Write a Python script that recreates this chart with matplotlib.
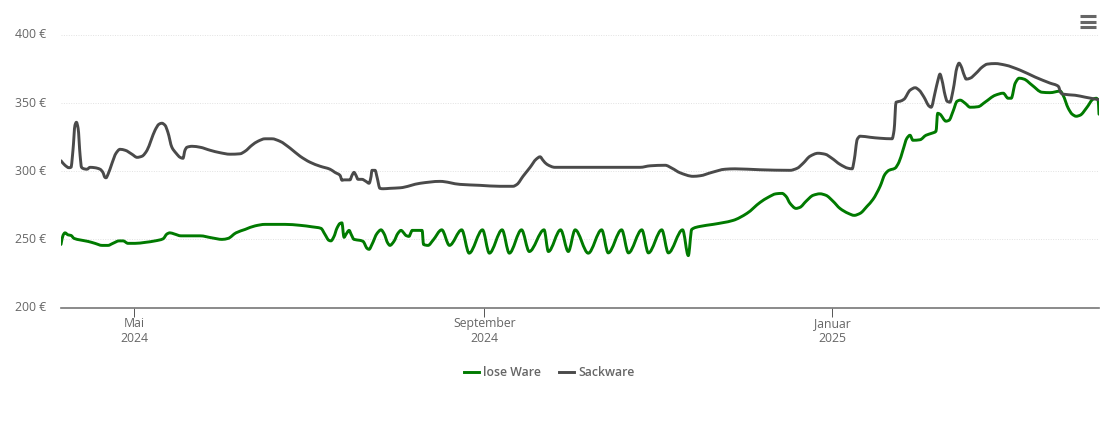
import matplotlib
matplotlib.use("Agg")
import matplotlib.pyplot as plt
import matplotlib.dates as mdates
from matplotlib.lines import Line2D
from matplotlib.patches import PathPatch
from matplotlib.path import Path
from matplotlib.transforms import ScaledTranslation
import numpy as np
import pandas as pd

plt.rcParams["font.family"] = ["Open Sans", "DejaVu Sans"]

# Tage seit Beginn der Achse und Preis in Euro
start = pd.Timestamp("2024-04-05 10:00")

sack_days = [0, 1.4, 2.8, 3.5, 4.2, 4.9, 5.4, 6, 6.7, 7.2, 8.1, 9.1, 10.2, 11.9, 13.7, 14.7,
             15.4, 15.8, 16.5, 17.9, 19.3, 20.7, 22.5, 24.9, 26.7, 28.4, 30.2, 31.6, 33, 34.4,
             35.4, 36.5, 37.5, 38.9, 40.4, 41.8, 42.8, 43.5, 44.2, 46, 48.8, 52.3, 55.8, 59.3,
             62.8, 64.6, 67, 69.1, 71.6, 74, 76.8, 80.4, 83.9, 87.4, 90.9, 94.4, 96.1, 97.9,
             98.6, 99.3, 101.4, 102.1, 102.8, 103.5, 104.2, 105.6, 107, 108.1, 108.8, 109.1,
             110.2, 110.9, 111.9, 113, 115.4, 119, 126, 133, 140, 147, 154, 158.6, 160, 162.1,
             164.6, 166.7, 168.1, 169.1, 170.5, 173.3, 178.6, 203.2, 206.7, 212, 214.4, 217.2,
             221.8, 224.2, 228.4, 233, 236.5, 245.3, 255.8, 258.3, 260.4, 262.8, 265.6, 268.1,
             270.5, 273.3, 276.2, 277.6, 278.3, 279.4, 280.4, 283.9, 287.4, 291.6, 292.3, 293,
             294.4, 295.8, 297.9, 299.7, 301.1, 302.8, 304.6, 305.3, 306.7, 307.7, 308.4, 309.1,
             310.2, 310.9, 311.9, 313, 314.4, 315.1, 315.8, 316.9, 317.6, 319, 321.1, 323.2,
             325, 327.8, 331.3, 336.5, 341.8, 347, 349.9, 350.9, 351.6, 355.8, 359.3, 364.2]
sack_price = [307.5, 304.2, 302.4, 302.7, 315.2, 333.5, 335.7, 331.3, 311.5, 302.7, 301.6, 301.3,
              302.7, 302.4, 301.3, 299, 295.4, 295, 297.6, 305.7, 313, 315.9, 315.2, 312.3, 310,
              310.8, 315.2, 322.5, 329.9, 334.3, 335, 333.5, 328.4, 317.4, 313, 310, 309.3, 315.2,
              317.4, 318.1, 317.4, 315.2, 313.4, 312.3, 312.6, 314.5, 318.9, 321.8, 323.6, 323.6,
              321.8, 316.7, 310.8, 306.4, 303.5, 301.3, 299, 296.8, 293.2, 293.5, 293.5, 296.8,
              299, 296.8, 293.9, 293.9, 292.4, 291, 296.1, 300.5, 300.5, 295.4, 287.3, 287, 287.3,
              287.7, 291, 292.4, 290.2, 289.5, 288.8, 288.8, 290.2, 296.1, 302.7, 308.6, 310.4,
              307.9, 304.9, 302.7, 302.7, 302.7, 303.8, 304.2, 302, 298.7, 296.1, 296.5, 299,
              301.3, 301.6, 300.9, 300.5, 302, 305.7, 310.8, 313, 312.3, 309.3, 304.9, 302, 301.6,
              307.9, 323.3, 325.5, 324.7, 324, 323.6, 329.9, 350.4, 351.1, 352.6, 359.2, 361,
              359.2, 354.1, 347.5, 346.7, 357.7, 366.6, 371, 366.6, 355.5, 351.1, 350.4, 359.2,
              376.1, 379, 376.8, 370.2, 367.3, 368, 371.7, 376.1, 378.3, 378.7, 377.6, 373.9,
              368.8, 364.4, 362.1, 357, 356.3, 355.5, 354.1, 352.2]

lose_days = [0, 0.7, 1.4, 2.5, 3.5, 4.6, 6.7, 9.5, 11.9, 14.4, 16.5, 18.2, 20.4, 21.8, 23.5, 26,
             29.5, 33, 35.8, 37.2, 38.2, 39.7, 42.1, 48.8, 53, 56.5, 58.6, 61.4, 64.6, 68.1, 71.6,
             78.6, 83.9, 88.1, 91.2, 92.6, 94, 94.7, 95.8, 96.8, 97.9, 98.6, 99, 99.3, 100, 101.1,
             101.8, 102.8, 104.9, 106, 107.4, 108.1, 109.1, 110.9, 112.3, 113.3, 114.7, 115.4,
             116.8, 118.2, 119.3, 120.4, 121, 122.1, 122.8, 123.2, 126.7, 127.2, 128.8, 130.5,
             133.6, 136.3, 140.6, 143.2, 147.9, 150.3, 154.8, 157.3, 161.6, 164.3, 169.5, 171,
             175.3, 178, 180.4, 185, 189.7, 192, 196.7, 199.1, 203.8, 206.1, 210.8, 213.1, 218.1,
             220.1, 221.3, 224.2, 228.8, 235.8, 240.7, 245.3, 248.1, 250.9, 253, 254.4, 255.8,
             257.9, 259.3, 261.4, 263.9, 266.3, 268.4, 270.9, 273.3, 276.2, 278.3, 280.4, 282.8,
             284.9, 287.4, 289.1, 290.5, 292.6, 294, 295.4, 296.8, 297.9, 298.9, 301.4, 303.5,
             305.6, 307, 307.6, 308.4, 310.5, 311.6, 313, 314.4, 315.5, 317.2, 319, 321.8, 324.2,
             327.8, 330.6, 332.3, 333.4, 334.8, 336.2, 337.9, 340.7, 344.2, 347, 350.6, 351.6,
             353.4, 354.8, 356.2, 357.6, 360, 362.1, 363.2, 363.9, 364.2]
lose_price = [246.2, 252.8, 254.7, 253.2, 252.8, 250.6, 249.5, 248.4, 247, 245.5, 245.5, 247, 248.8,
              248.8, 247, 247, 247.7, 248.8, 250.3, 253.9, 254.7, 253.9, 252.5, 252.5, 251, 249.9,
              250.6, 254.7, 257.2, 259.8, 260.9, 260.9, 260.2, 259.1, 258, 253.6, 249.2, 248.8,
              252.1, 258, 261.6, 262, 255, 251.4, 253.6, 256.5, 253.6, 249.9, 249.2, 248.4, 243.3,
              242.6, 246.2, 254.3, 256.9, 254.3, 247, 245.5, 248.4, 254.3, 256.5, 254.3, 252.8,
              252.1, 255, 256.5, 256.5, 246.2, 245.5, 249.2, 256.9, 245.5, 256.9, 239.8, 256.9,
              239.8, 256.9, 239.8, 256.9, 241, 256.9, 241, 256.9, 241, 256.9, 239.8, 256.9, 240,
              256.9, 240, 256.9, 240, 256.9, 240, 256.9, 238, 257.2, 259.4, 260.9, 263.8, 269, 277,
              280.7, 283.3, 283.6, 281.4, 276.3, 272.6, 273.4, 277.8, 282.2, 283.3, 282.2, 277.8,
              272.6, 269, 267.5, 269, 274.1, 279.2, 288.8, 297.6, 300.5, 302, 306.4, 315.2, 324,
              326.2, 322.5, 322.9, 326.2, 327.7, 329.1, 342.3, 341.6, 336.5, 337.2, 343.8, 351.1,
              351.9, 349.7, 346.7, 347.1, 350.4, 355.5, 357, 353.3, 353.3, 364.3, 368, 367.3, 362.9,
              357.7, 357.4, 358.5, 355.5, 346, 341.6, 340.1, 340.9, 346.7, 352.6, 353.3, 351.9,
              341.6]

y_ticks = [200, 250, 300, 350, 400]
x_ticks = ["2024-05-01", "2024-09-01", "2025-01-01"]
x_labels = ["Mai\n2024", "September\n2024", "Januar\n2025"]
series_names = ["lose Ware", "Sackware"]

GREEN = "#007a00"
GREY = "#4a4a4a"
TEXT = "#666666"
LINE_W = 2.1


def spline_path(days, price):
    x = mdates.date2num(start + pd.to_timedelta(days, unit="D"))
    y = np.array(price, dtype=float)
    h = np.diff(x)
    d = np.diff(y) / h
    m = np.zeros(len(x))
    m[0], m[-1] = d[0], d[-1]
    for i in range(1, len(x) - 1):
        if d[i - 1] * d[i] > 0:
            w1 = 2 * h[i] + h[i - 1]
            w2 = h[i] + 2 * h[i - 1]
            m[i] = (w1 + w2) / (w1 / d[i - 1] + w2 / d[i])
    verts = [(x[0], y[0])]
    codes = [Path.MOVETO]
    for i in range(len(x) - 1):
        verts += [(x[i] + h[i] / 3, y[i] + m[i] * h[i] / 3),
                  (x[i + 1] - h[i] / 3, y[i + 1] - m[i + 1] * h[i] / 3),
                  (x[i + 1], y[i + 1])]
        codes += [Path.CURVE4] * 3
    return Path(verts, codes)


fig = plt.figure(figsize=(11.10, 4.22), dpi=100)
ax = fig.add_axes([61 / 1110, 1 - 307.5 / 422, 1038 / 1110, 273 / 422])

for days, price, color in [(lose_days, lose_price, GREEN), (sack_days, sack_price, GREY)]:
    ax.add_patch(PathPatch(spline_path(days, price), fill=False, edgecolor=color, lw=LINE_W,
                           capstyle="round", joinstyle="round", zorder=3))

ax.set_xlim(start, start + pd.Timedelta(days=364.2))
ax.set_ylim(200, 400)

ax.set_yticks(y_ticks)
ax.set_yticklabels([f"{v} €" for v in y_ticks], fontsize=8.8, color=TEXT)
ax.set_xticks(pd.to_datetime(x_ticks))
ax.set_xticklabels(x_labels, fontsize=8.8, color=TEXT, linespacing=1.2)
ax.tick_params(axis="y", length=0, pad=11)
ax.tick_params(axis="x", length=6.5, width=0.7, color="#555555", pad=0.5)

# y-Beschriftung sitzt im Original etwas über der Linie
up = ScaledTranslation(0, 1.2 / 100, fig.dpi_scale_trans)
for lbl in ax.get_yticklabels():
    lbl.set_transform(lbl.get_transform() + up)

ax.grid(axis="y", color="#e2e2e2", lw=0.7, ls=(0, (1, 1.5)))
ax.set_axisbelow(True)
for side in ["top", "left", "right"]:
    ax.spines[side].set_visible(False)
ax.spines["bottom"].set_color("#777777")
ax.spines["bottom"].set_linewidth(1.2)

handles = [Line2D([], [], color=GREEN, lw=LINE_W), Line2D([], [], color=GREY, lw=LINE_W)]
fig.legend(handles, series_names, loc="center", bbox_to_anchor=(549.5 / 1110, 1 - 373 / 422),
           ncol=2, frameon=False, handlelength=1.2, handletextpad=0.35, columnspacing=1.5,
           prop={"size": 8.8, "weight": "semibold"}, labelcolor=TEXT)

# Menü-Symbol oben rechts
for py in [16.3, 21.5, 26.5]:
    fig.add_artist(Line2D([1079.5 / 1110, 1096 / 1110], [1 - py / 422, 1 - py / 422],
                          color="#666666", lw=2.2, solid_capstyle="butt"))

fig.savefig("out.png", dpi=100)
